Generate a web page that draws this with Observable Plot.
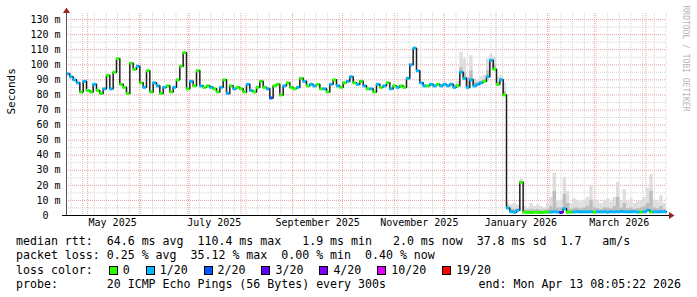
<!DOCTYPE html>
<html><head><meta charset="utf-8">
<script src="https://cdn.jsdelivr.net/npm/d3@7"></script>
<script src="https://cdn.jsdelivr.net/npm/@observablehq/plot@0.6"></script>
<style>
html,body{margin:0;padding:0;background:#fff;}
#wrap{position:relative;width:697px;height:297px;overflow:hidden;background:#fff;}
#chart svg{display:block;}
#legend{position:absolute;left:16px;top:234px;font-family:"DejaVu Sans Mono",monospace;font-size:11.6px;line-height:14.3px;white-space:pre;color:#000;}
#legend .box{display:inline-block;width:7px;height:7px;border:1px solid #000;margin:0 5px 0 2px;vertical-align:-1px;}
#probe{position:relative;width:665px;}
#probe .end{position:absolute;right:0;top:0;}
</style>
</head><body>
<div id="wrap"><div id="chart"></div><div id="legend"></div></div>
<script>
// ---- data ----
const endTime = new Date(2026, 3, 13, 8, 5, 22);
const spanDays = 360;
const stepDays = 2;
// median rtt (ms), one value per 2-day step from the start of the 360-day window
const medianValues = [
 94,92,90,88,82,89,83,82,87,83,
 81,84,93,84,95,104,87,85,81,101,
 97,99,88,85,96,82,88,86,81,85,
 86,82,85,90,99,108,84,89,86,96,
 86,85,86,85,84,82,85,90,81,86,
 84,85,84,82,87,83,82,85,89,85,
 84,78,86,87,80,86,88,85,84,85,
 91,89,86,87,86,87,84,84,82,87,
 90,86,85,88,89,92,88,87,89,86,
 84,84,82,87,85,86,88,84,86,85,
 86,85,91,100,111,96,88,86,86,87,
 86,87,86,87,86,87,85,86,95,91,
 85,90,86,87,88,89,92,103,97,87,
 90,80,
 5,2.6,2.2,3.5,22,2.2,2.1,2.0,2.2,2.1,
 2.0,2.2,2.3,2.3,2.5,2.3,2.0,4.5,2.2,2.3,
 2.4,2.5,2.4,2.5,2.4,2.5,2.2,2.5,2.4,2.5,
 2.3,2.5,2.4,2.5,2.6,2.5,2.4,2.5,2.5,2.3,
 2.3,2.5,3.5,2.3,2.5,2.4,2.5,2.5
];
// loss bracket index per step (0 = no loss, 1 = 1/20, 2 = 2/20, 3 = 3/20 ...)
const lossIndex = [
 1,1,1,1,0,1,0,0,1,0,
 0,1,0,1,0,0,0,0,0,0,
 0,1,0,1,0,0,1,1,0,1,
 0,0,1,0,0,0,0,1,0,0,
 1,0,0,1,0,0,1,0,1,0,
 1,0,0,0,1,1,0,0,0,0,
 1,2,0,0,0,1,0,0,0,1,
 0,1,0,1,1,0,0,1,0,1,
 0,1,0,0,1,1,0,1,0,1,
 0,1,0,1,0,1,0,1,0,1,
 0,0,1,1,1,1,1,1,0,1,
 1,0,1,1,1,1,1,0,1,1,
 1,1,1,1,1,0,1,1,0,0,
 1,0,
 1,1,1,1,0,0,0,0,0,0,
 0,0,0,1,1,1,3,1,0,0,
 1,1,1,1,1,1,0,1,1,1,
 1,1,1,1,1,1,1,1,1,1,
 0,1,1,0,1,1,1,1
];
// smoke (ping spread) for the steps where it shows, starting at step smokeFirstStep
const smokeFirstStep = 115;
const smokeMax = [
 88,87,89,108,104,92,106,91,90,92,
 93,104,107,105,92,93,88,
 8,7,8,7,24,6,5,8,6,7,6,5,8,12,28,10,10,25,16,8,
 11,10,9,10,12,20,10,9,8,10,11,9,12,22,10,17,9,11,8,9,
 10,12,18,27,10,9,13,8
];
const smokeMid = [
 86,86,87,98,95,91,96,88,88,89,
 90,96,100,100,88,91,82,
 4,4,4,4,20,3.5,3.5,4,3.5,4,3.5,3.5,4,6,16,5,5,14,8,4,
 5,5,4.5,5,6,10,5,4.5,4,5,5,4.5,6,12,5,8,4.5,5,4,4.5,
 5,6,8,16,5,4.5,6,4
];
const lossColors = ["#26ff00","#00b8ff","#0059ff","#5e00ff","#7e00ff","#dd00ff","#ff0000"];
const lossLabels = ["0","1/20","2/20","3/20","4/20","10/20","19/20"];
const yMajorTicks = [10,20,30,40,50,60,70,80,90,100,110,120,130];
const yMinorTicks = [5,15,25,35,45,55,65,75,85,95,105,115,125];
const yLabelTicks = [0,10,20,30,40,50,60,70,80,90,100,110,120,130];
const monthLabels = ["May 2025","July 2025","September 2025","November 2025","January 2026","March 2026"];
const monthLabelDates = ["2025-05-16","2025-07-16","2025-09-16","2025-11-16","2026-01-16","2026-03-16"];
const rttStats = ["64.6 ms avg","110.4 ms max","1.9 ms min","2.0 ms now","37.8 ms sd","1.7   am/s"];
const lossStats = ["0.25 % avg","35.12 % max","0.00 % min","0.40 % now"];
const probeText = "20 ICMP Echo Pings (56 Bytes) every 300s";
const endText = "end: Mon Apr 13 08:05:22 2026";

// ---- build ----
const DAY = 864e5;
const startTime = new Date(+endTime - spanDays * DAY);
const tAt = i => new Date(+startTime + i * stepDays * DAY);
const rows = medianValues.map((v, i) => ({t0: tAt(i), t1: tAt(i + 1), v, c: lossColors[lossIndex[i]]}));
const linePts = rows.map(r => ({t: r.t0, v: r.v})).concat([{t: endTime, v: medianValues[medianValues.length - 1]}]);
const smoke = smokeMax.map((m, k) => {
  const i = smokeFirstStep + k;
  return {t0: tAt(i), t1: tAt(i + 1), base: medianValues[i], max: m, mid: smokeMid[k]};
});
const months = d3.timeMonth.range(startTime, endTime);
const weeks = d3.timeMonday.range(startTime, endTime);
const labelRows = monthLabels.map((s, i) => ({s, t: new Date(monthLabelDates[i] + "T00:00:00")}));

const triUp = {draw(ctx){ctx.moveTo(0,-4);ctx.lineTo(3.5,1.5);ctx.lineTo(-3.5,1.5);ctx.closePath();}};
const triRight = {draw(ctx){ctx.moveTo(4,0);ctx.lineTo(-1.5,3.5);ctx.lineTo(-1.5,-3.5);ctx.closePath();}};

const mono = "DejaVu Sans Mono";
const minorC = "#d2d2d2", majorC = "#eaa4a4";

const chart = Plot.plot({
  width: 697, height: 232,
  marginLeft: 66, marginRight: 31, marginTop: 13, marginBottom: 17,
  x: {type: "time", domain: [startTime, endTime], axis: null},
  y: {domain: [0, 134], axis: null},
  color: {type: "identity"},
  style: {background: "#fff", overflow: "visible"},
  marks: [
    Plot.ruleX(weeks, {stroke: minorC, strokeDasharray: "1,1"}),
    Plot.ruleY(yMinorTicks, {stroke: minorC, strokeDasharray: "1,1"}),
    Plot.ruleX(months, {stroke: majorC, strokeDasharray: "1,1"}),
    Plot.ruleY(yMajorTicks, {stroke: majorC, strokeDasharray: "1,1"}),
    Plot.rectY(smoke.filter(d => d.max > d.base), {x1: "t0", x2: "t1", y1: "base", y2: "max", fill: "#dedede"}),
    Plot.rectY(smoke.filter(d => d.mid > d.base), {x1: "t0", x2: "t1", y1: "base", y2: "mid", fill: "#bdbdbd"}),
    Plot.line(linePts, {x: "t", y: "v", curve: "step-after", stroke: "#1e1e1e", strokeWidth: 1.5}),
    Plot.ruleY(rows, {y: "v", x1: "t0", x2: "t1", stroke: "c", strokeWidth: 3}),
    Plot.ruleY([0], {stroke: "#000", insetLeft: -4, insetRight: -4}),
    Plot.ruleX([startTime], {stroke: "#555", insetTop: -4}),
    Plot.dot([0], {frameAnchor: "top-left", symbol: triUp, fill: "#992222", stroke: "none", dy: -2}),
    Plot.dot([0], {frameAnchor: "bottom-right", symbol: triRight, fill: "#992222", stroke: "none", dx: 4}),
    Plot.text(yLabelTicks, {y: d => d, frameAnchor: "left", textAnchor: "end", dx: -6,
      text: d => d === 0 ? "0\u00a0\u00a0" : d + " m", fontFamily: mono, fontSize: 10, fill: "#000"}),
    Plot.text(labelRows, {x: "t", text: "s", frameAnchor: "bottom", dy: 10, fontFamily: mono, fontSize: 10, fill: "#000"}),
    Plot.text(["Seconds"], {frameAnchor: "left", dx: -55, rotate: -90, fontFamily: mono, fontSize: 11, fill: "#000"}),
    Plot.text(["RRDTOOL / TOBI OETIKER"], {frameAnchor: "top-right", dx: 22, dy: -8, rotate: 90, textAnchor: "start",
      fontFamily: mono, fontSize: 8, fill: "#b4b4b4"})
  ]
});
document.getElementById("chart").appendChild(chart);

// ---- legend ----
const lg = document.getElementById("legend");
const l1 = document.createElement("div");
l1.textContent = "median rtt:  " + rttStats[0] + "  " + rttStats[1] + "   " + rttStats[2] + "   " + rttStats[3] + "  " + rttStats[4] + "  " + rttStats[5];
const l2 = document.createElement("div");
l2.textContent = "packet loss: " + lossStats.join("  ");
const l3 = document.createElement("div");
l3.appendChild(document.createTextNode("loss color:  "));
lossLabels.forEach((lab, i) => {
  const b = document.createElement("span"); b.className = "box"; b.style.background = lossColors[i];
  if (i > 0) l3.appendChild(document.createTextNode("  "));
  l3.appendChild(b);
  l3.appendChild(document.createTextNode(lab));
});
const l4 = document.createElement("div"); l4.id = "probe";
l4.textContent = "probe:       " + probeText;
const e = document.createElement("span"); e.className = "end"; e.textContent = endText; l4.appendChild(e);
[l1, l2, l3, l4].forEach(d => lg.appendChild(d));
</script>
</body></html>
